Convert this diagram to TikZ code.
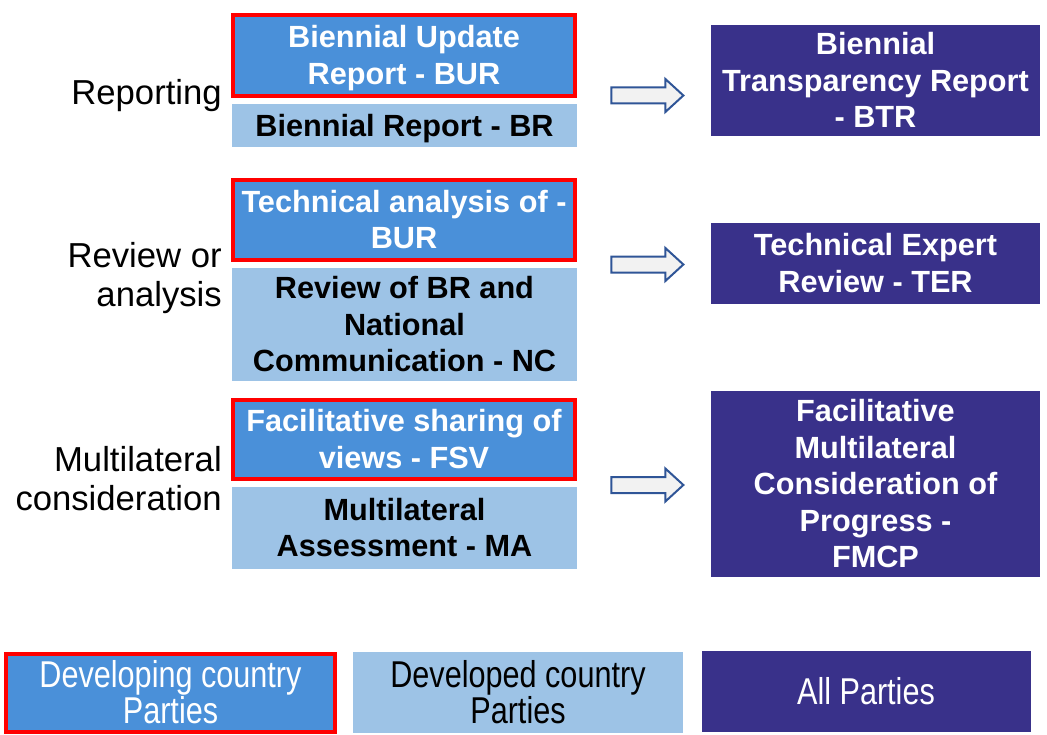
\documentclass[tikz,border=0pt]{standalone}
\usepackage{fontspec}
\setmainfont{Liberation Sans}
\newfontfamily\narrowfont[FakeStretch=0.82]{Liberation Sans}
\usetikzlibrary{shapes.arrows}
\definecolor{devblue}{RGB}{74,144,217}
\definecolor{devdblue}{RGB}{157,195,230}
\definecolor{allblue}{RGB}{57,49,138}
\definecolor{arrowblue}{RGB}{47,85,151}
\definecolor{arrowgray}{RGB}{242,242,242}
% line struts, so that text sits as in the slide
\newcommand{\ts}{\rule{0pt}{0.905em}}
\newcommand{\bs}{\rule[-0.212em]{0pt}{0pt}}
\tikzstyle{boxtext}=[align=center,inner sep=0pt,font=\fontsize{23}{27.2}\selectfont\bfseries]
\tikzstyle{devbox}=[boxtext,fill=devblue,draw=red,line width=3pt,text=white,minimum width=256.5pt]
\tikzstyle{devdbox}=[boxtext,fill=devdblue,text=black,minimum width=258.75pt]
\tikzstyle{allbox}=[boxtext,fill=allblue,text=white,minimum width=246.75pt,font=\fontsize{23}{27.4}\selectfont\bfseries]
\tikzstyle{rowlabel}=[anchor=east,align=right,inner sep=0pt,font=\fontsize{26}{29}\selectfont]
\tikzstyle{legendfont}=[font=\narrowfont\fontsize{28}{27}\selectfont]
\tikzstyle{blockarrow}=[single arrow,draw=arrowblue,fill=arrowgray,line width=1.5pt,minimum height=54pt,inner xsep=0pt,inner ysep=5.25pt,single arrow head extend=6.4pt,single arrow tip angle=85]

\begin{document}
\begin{tikzpicture}[x=0.75pt,y=-0.75pt]
\useasboundingbox (0,0) rectangle (1047,735);

% reporting
\node[devbox,minimum height=60.75pt] (BUR) at (404,55.5) {\ts Biennial Update\\Report - BUR\bs};
\node[devdbox,minimum height=32.25pt] (BR) at (404.5,125.5) {\ts Biennial Report - BR\bs};
\node[allbox,minimum height=83.25pt] (BTR) at (875.5,80.5) {\ts Biennial\\Transparency Report\\- BTR\bs};

% review
\node[devbox,minimum height=60pt] (TA) at (404,220) {\ts Technical analysis of -\\BUR\bs};
\node[devdbox,minimum height=84.75pt] (RBR) at (404.5,324.5) {\ts Review of BR and\\National\\Communication - NC\bs};
\node[allbox,minimum height=60.75pt] (TER) at (875.5,263.5) {\ts Technical Expert\\Review - TER\bs};

% multilateral
\node[devbox,minimum height=59.25pt] (FSV) at (404,439.5) {\ts Facilitative sharing of\\views - FSV\bs};
\node[devdbox,minimum height=61.5pt] (MA) at (404.5,528) {\ts Multilateral\\Assessment - MA\bs};
\node[allbox,minimum height=139.5pt] (FMCP) at (875.5,484) {\ts Facilitative\\Multilateral\\Consideration of\\Progress -\\FMCP\bs};

\node[rowlabel] (L1) at (222,92) {\ts Reporting\bs};
\node[rowlabel] (L2) at (222,275) {\ts Review or\\analysis\bs};
\node[rowlabel] (L3) at (222,479) {\ts Multilateral\\consideration\bs};

\node[blockarrow] (A1) at (643,95.5) {};
\node[blockarrow] (A2) at (643,264.5) {};
\node[blockarrow] (A3) at (643,485) {};

% legend
\node[devbox,legendfont,minimum width=246.75pt,minimum height=58.5pt] (K1) at (170.5,693) {\ts Developing country\\Parties\bs};
\node[devdbox,legendfont,minimum width=247.5pt,minimum height=60.75pt] (K2) at (518,692.5) {\ts Developed country\\Parties\bs};
\node[allbox,legendfont,minimum height=60.75pt] (K3) at (866,691.5) {\ts All Parties\bs};

\end{tikzpicture}
\end{document}
